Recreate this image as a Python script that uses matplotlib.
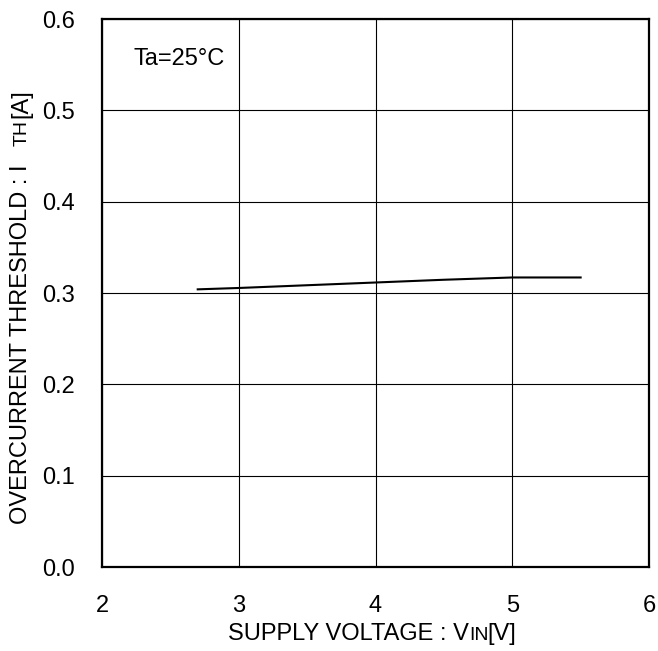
import matplotlib
matplotlib.use("Agg")
import matplotlib.pyplot as plt

# ── data ─────────────────────────────────────────────────────────────────────
VIN = [2.7, 3.0, 3.5, 4.0, 4.5, 5.0, 5.5]
ITH = [0.304, 0.3055, 0.3085, 0.3115, 0.3145, 0.317, 0.317]

X_TICKS = [2, 3, 4, 5, 6]
Y_TICKS = [0.0, 0.1, 0.2, 0.3, 0.4, 0.5, 0.6]

FS = 17
FS_SMALL = 14
plt.rcParams["font.family"] = ["Liberation Sans", "DejaVu Sans"]

W, H = 658, 651
fig = plt.figure(figsize=(W / 100, H / 100), dpi=100)
ax = fig.add_axes([102 / W, (H - 567) / H, (649 - 102) / W, (567 - 19) / H])

ax.plot(VIN, ITH, color="black", linewidth=1.5, zorder=3)

ax.set_xlim(2, 6)
ax.set_ylim(0, 0.6)
ax.set_xticks(X_TICKS)
ax.set_yticks(Y_TICKS)
ax.set_xticklabels([str(t) for t in X_TICKS])
ax.set_yticklabels([f"{t:.1f}" for t in Y_TICKS])
ax.tick_params(length=0, labelsize=FS)
ax.tick_params(axis="x", pad=20)
ax.tick_params(axis="y", pad=19.5)
ax.grid(True, color="black", linewidth=0.8, zorder=1)
for sp in ax.spines.values():
    sp.set_linewidth(1.6)
    sp.set_color("black")

ax.text(0.0585, 0.916, "Ta=25°C", transform=ax.transAxes,
        fontsize=FS, ha="left", va="baseline")

# descent difference between the two font sizes, in points
dd = (FS - FS_SMALL) * 0.212

# ── x label: SUPPLY VOLTAGE : V_IN[V] (small caps subscript on baseline) ────
t1 = fig.text(228 / W, (H - 640) / H, "SUPPLY VOLTAGE : V",
              fontsize=FS, ha="left", va="baseline")
t2 = ax.annotate("IN", xy=(1, 0), xycoords=t1, xytext=(0, dd),
                 textcoords="offset points", fontsize=FS_SMALL,
                 ha="left", va="bottom", annotation_clip=False)
ax.annotate("[V]", xy=(1, 0), xycoords=t2, xytext=(-1, -dd),
            textcoords="offset points", fontsize=FS,
            ha="left", va="bottom", annotation_clip=False)

# ── y label: OVERCURRENT THRESHOLD : I  TH[A] ────────────────────────────────
y1 = fig.text(32 / W, (H - 524) / H, "OVERCURRENT THRESHOLD : I",
              fontsize=FS, rotation=90, ha="right", va="bottom")
y2 = ax.annotate("TH", xy=(1, 1), xycoords=y1, xytext=(-dd, 13),
                 textcoords="offset points", fontsize=FS_SMALL, rotation=90,
                 ha="right", va="bottom", annotation_clip=False)
ax.annotate("[A]", xy=(1, 1), xycoords=y2, xytext=(dd, 2),
            textcoords="offset points", fontsize=FS, rotation=90,
            ha="right", va="bottom", annotation_clip=False)

fig.savefig("out.png", dpi=100)
